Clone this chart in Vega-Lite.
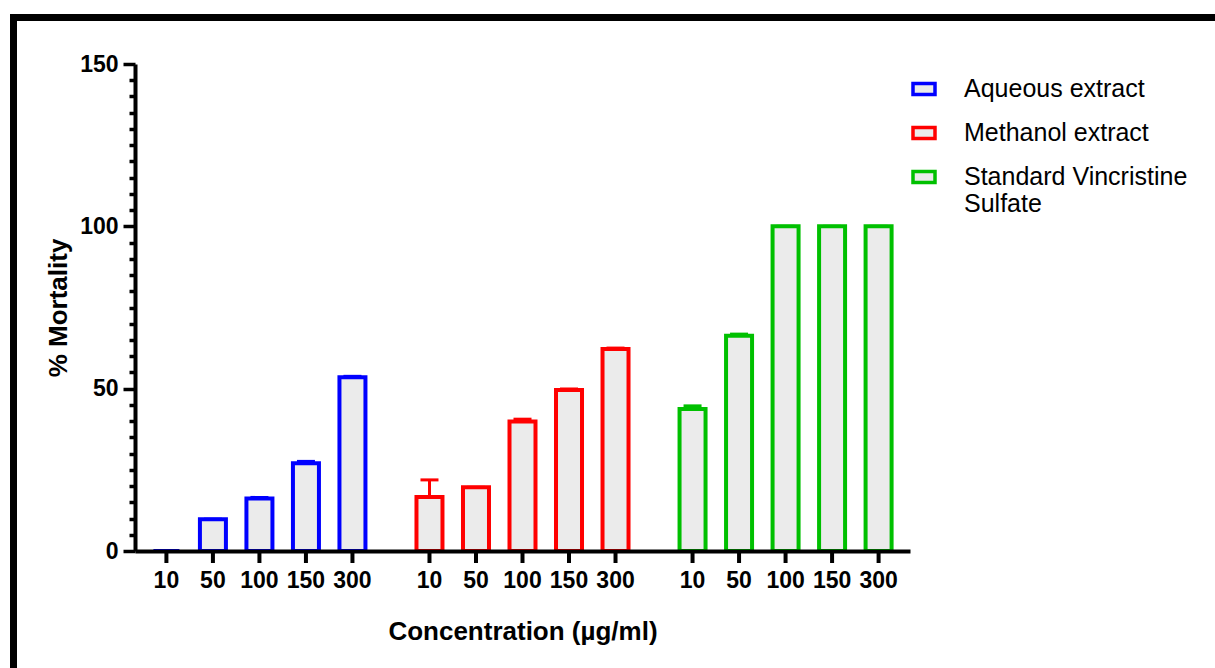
{
  "$schema": "https://vega.github.io/schema/vega-lite/v6.json",
  "padding": {"left": 10, "top": 14, "right": 0, "bottom": 0},
  "background": "white",
  "bounds": "flush",
  "spacing": 0,
  "hconcat": [
    {
      "width": 7, "height": 654,
      "view": {"fill": "black", "stroke": null},
      "data": {"values": []},
      "mark": "rect",
      "encoding": {}
    },
    {
      "bounds": "flush",
      "spacing": 43,
      "vconcat": [
        {
          "width": 1198, "height": 7,
          "view": {"fill": "black", "stroke": null},
          "data": {"values": []},
          "mark": "rect",
          "encoding": {}
        },
        {
          "bounds": "flush",
          "spacing": 7,
          "hconcat": [
            {
              "width": 111, "height": 487,
              "data": {"values": []},
              "mark": "rect",
              "encoding": {}
            },
            {
              "width": 775,
              "height": 487,
              "data": {
                "values": [
                  {"group": "Aqueous extract", "conc": "10", "mortality": 0, "upper": 0},
                  {"group": "Aqueous extract", "conc": "50", "mortality": 9.8, "upper": 9.8},
                  {"group": "Aqueous extract", "conc": "100", "mortality": 16.2, "upper": 16.5},
                  {"group": "Aqueous extract", "conc": "150", "mortality": 27.0, "upper": 27.6},
                  {"group": "Aqueous extract", "conc": "300", "mortality": 53.5, "upper": 53.8},
                  {"group": "Methanol extract", "conc": "10", "mortality": 16.6, "upper": 21.9},
                  {"group": "Methanol extract", "conc": "50", "mortality": 19.6, "upper": 19.6},
                  {"group": "Methanol extract", "conc": "100", "mortality": 39.9, "upper": 40.6},
                  {"group": "Methanol extract", "conc": "150", "mortality": 49.6, "upper": 49.9},
                  {"group": "Methanol extract", "conc": "300", "mortality": 62.2, "upper": 62.5},
                  {"group": "Standard Vincristine Sulfate", "conc": "10", "mortality": 43.7, "upper": 44.7},
                  {"group": "Standard Vincristine Sulfate", "conc": "50", "mortality": 66.3, "upper": 66.8},
                  {"group": "Standard Vincristine Sulfate", "conc": "100", "mortality": 100, "upper": 100},
                  {"group": "Standard Vincristine Sulfate", "conc": "150", "mortality": 100, "upper": 100},
                  {"group": "Standard Vincristine Sulfate", "conc": "300", "mortality": 100, "upper": 100}
                ]
              },
              "resolve": {"axis": {"y": "independent"}},
              "encoding": {
                "x": {
                  "field": "group",
                  "type": "nominal",
                  "scale": {
                    "domain": ["Aqueous extract", "Methanol extract", "Standard Vincristine Sulfate"],
                    "paddingInner": 0.116,
                    "paddingOuter": 0.031
                  },
                  "axis": {
                    "title": "Concentration (µg/ml)",
                    "labels": false,
                    "ticks": false,
                    "grid": false,
                    "domainWidth": 4,
                    "domainColor": "black",
                    "titleFontSize": 26,
                    "titleFontWeight": "bold",
                    "titleFont": "Liberation Sans",
                    "titleColor": "black",
                    "titlePadding": 67,
                    "zindex": 1
                  }
                },
                "xOffset": {
                  "field": "conc",
                  "type": "nominal",
                  "scale": {"domain": ["10", "50", "100", "150", "300"], "paddingInner": 0, "paddingOuter": 0}
                }
              },
              "layer": [
                {
                  "mark": {"type": "bar", "size": 26, "strokeWidth": 4, "strokeJoin": "miter", "fillOpacity": 1, "strokeOpacity": 1},
                  "encoding": {
                    "y": {
                      "field": "mortality",
                      "type": "quantitative",
                      "scale": {"domain": [0, 150], "nice": false},
                      "axis": {
                        "orient": "left",
                        "title": "% Mortality",
                        "values": [0, 50, 100, 150],
                        "tickSize": 12,
                        "tickWidth": 3.5,
                        "tickColor": "black",
                        "grid": false,
                        "domainWidth": 4,
                        "domainColor": "black",
                        "labelFont": "Liberation Sans",
                        "labelFontSize": 23,
                        "labelFontWeight": "bold",
                        "labelColor": "black",
                        "labelPadding": 5,
                        "labelOverlap": false,
                        "labelFlush": false,
                        "titleFont": "Liberation Sans",
                        "titleFontSize": 26,
                        "titleFontWeight": "bold",
                        "titleColor": "black",
                        "titlePadding": 8,
                        "zindex": 1
                      }
                    },
                    "fill": {
                      "field": "group",
                      "type": "nominal",
                      "scale": {
                        "domain": ["Aqueous extract", "Methanol extract", "Standard Vincristine Sulfate"],
                        "range": ["#ebebeb", "#ebebeb", "#ebebeb"]
                      },
                      "legend": {
                        "title": null,
                        "orient": "none",
                        "legendX": 901,
                        "legendY": 62,
                        "symbolType": "M-1,-0.5H1V0.5H-1Z",
                        "symbolSize": 484,
                        "symbolStrokeWidth": 3.5,
                        "symbolOpacity": 1,
                        "labelFont": "Liberation Sans",
                        "labelFontSize": 25,
                        "labelColor": "black",
                        "labelOffset": 27,
                        "labelLimit": 400,
                        "rowPadding": 18,
                        "labelExpr": "datum.label === 'Standard Vincristine Sulfate' ? ['Standard Vincristine', 'Sulfate'] : datum.label"
                      }
                    },
                    "stroke": {
                      "field": "group",
                      "type": "nominal",
                      "scale": {
                        "domain": ["Aqueous extract", "Methanol extract", "Standard Vincristine Sulfate"],
                        "range": ["#0000ff", "#ff0000", "#00c000"]
                      },
                      "legend": {
                        "title": null,
                        "orient": "none",
                        "legendX": 901,
                        "legendY": 62,
                        "symbolType": "M-1,-0.5H1V0.5H-1Z",
                        "symbolSize": 484,
                        "symbolStrokeWidth": 3.5,
                        "symbolOpacity": 1,
                        "labelFont": "Liberation Sans",
                        "labelFontSize": 25,
                        "labelColor": "black",
                        "labelOffset": 27,
                        "labelLimit": 400,
                        "rowPadding": 18,
                        "labelExpr": "datum.label === 'Standard Vincristine Sulfate' ? ['Standard Vincristine', 'Sulfate'] : datum.label"
                      }
                    }
                  }
                },
                {
                  "mark": {"type": "rule", "strokeWidth": 3},
                  "encoding": {
                    "y": {"field": "mortality", "type": "quantitative", "axis": null},
                    "y2": {"field": "upper"},
                    "stroke": {"field": "group", "type": "nominal", "legend": null}
                  }
                },
                {
                  "mark": {"type": "tick", "orient": "horizontal", "size": 18, "thickness": 3, "opacity": 1},
                  "encoding": {
                    "y": {
                      "field": "upper",
                      "type": "quantitative",
                      "axis": {
                        "orient": "left",
                        "title": null,
                        "values": [5, 10, 15, 20, 25, 30, 35, 40, 45, 55, 60, 65, 70, 75, 80, 85, 90, 95, 105, 110, 115, 120, 125, 130, 135, 140, 145],
                        "labels": false,
                        "domain": false,
                        "grid": false,
                        "tickSize": 6,
                        "tickWidth": 3.5,
                        "tickColor": "black",
                        "zindex": 1
                      }
                    },
                    "color": {
                      "field": "group",
                      "type": "nominal",
                      "scale": {
                        "domain": ["Aqueous extract", "Methanol extract", "Standard Vincristine Sulfate"],
                        "range": ["#0000ff", "#ff0000", "#00c000"]
                      },
                      "legend": null
                    }
                  }
                },
                {
                  "mark": {"type": "rule", "strokeWidth": 4, "color": "black"},
                  "encoding": {
                    "y": {"datum": 0, "axis": null},
                    "y2": {"datum": -3.7}
                  }
                },
                {
                  "mark": {"type": "text", "fontSize": 23, "fontWeight": "bold", "font": "Liberation Sans", "baseline": "middle", "align": "center", "color": "black"},
                  "encoding": {
                    "y": {"datum": -9.3, "axis": null},
                    "text": {"field": "conc", "type": "nominal"}
                  }
                }
              ]
            }
          ]
        }
      ]
    }
  ],
  "config": {
    "view": {"stroke": null},
    "font": "Liberation Sans"
  }
}
